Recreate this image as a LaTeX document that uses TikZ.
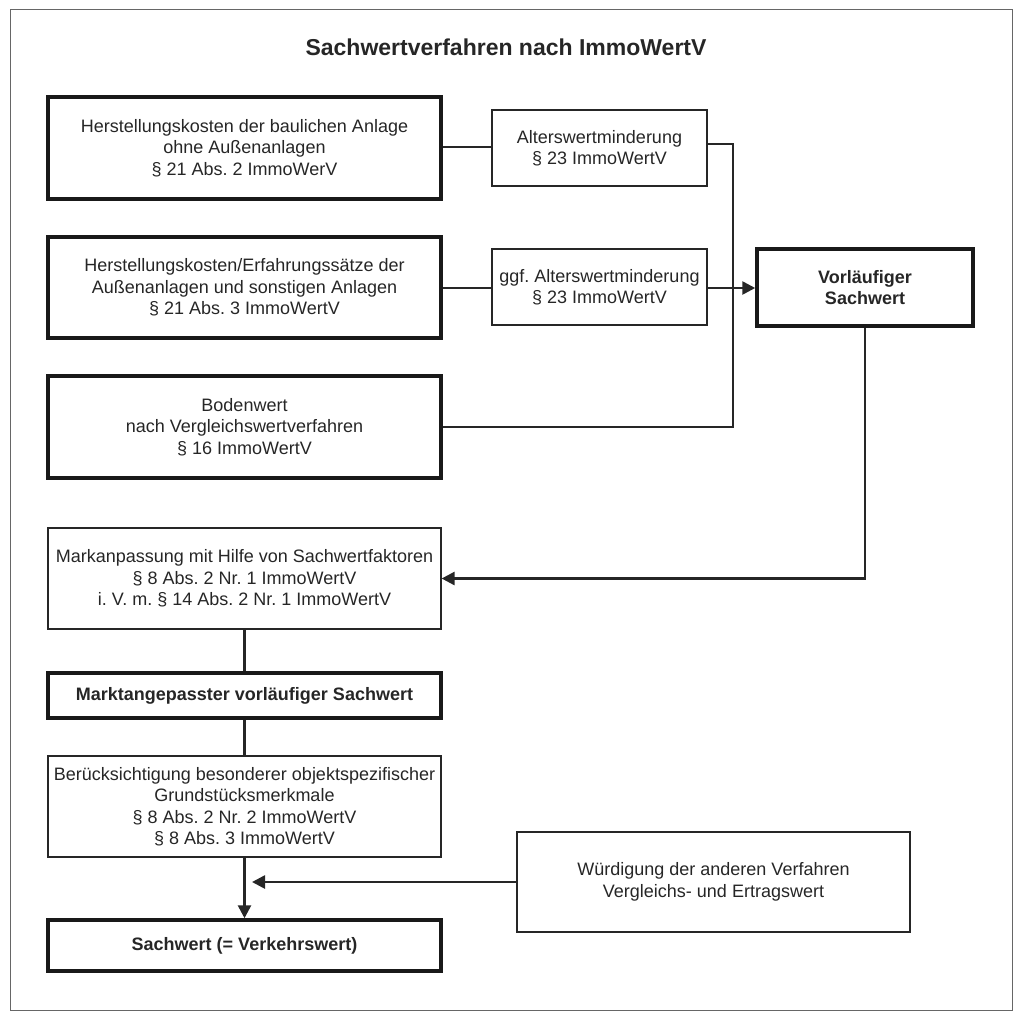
\documentclass[tikz,border=0pt]{standalone}
\usepackage{fontspec}
\setmainfont{Liberation Sans}
\usetikzlibrary{arrows.meta}
\begin{document}
\frenchspacing
\begin{tikzpicture}[x=1pt,y=-1pt,
  thickbox/.style={draw=black!90, line width=3.5pt, inner sep=0pt, align=center, font=\fontsize{18}{21.5}\selectfont, text=black!85},
  thinbox/.style={draw=black!85, line width=1.2pt, inner sep=0pt, align=center, font=\fontsize{18}{21.5}\selectfont, text=black!85},
  boldtext/.style={font=\bfseries\fontsize{18}{21.5}\selectfont},
  conn/.style={draw=black!85, line width=2.6pt},
  arr/.style={conn, -{Triangle[length=13pt,width=13pt]}}]
\useasboundingbox (0,0) rectangle (1024,1021);
\draw[black!60, line width=1pt] (10,9) rectangle (1012,1010);
\node[font=\bfseries\fontsize{23}{27}\selectfont, text=black!85] (title) at (506,47) {Sachwertverfahren nach ImmoWertV};

\node[thickbox, minimum width=393pt, minimum height=102pt] (A) at (244.5,148) {Herstellungskosten der baulichen Anlage\\ohne Außenanlagen\\§ 21 Abs. 2 ImmoWerV};
\node[thinbox, minimum width=215pt, minimum height=76pt] (B) at (599.5,148) {Alterswertminderung\\§ 23 ImmoWertV};
\node[thickbox, minimum width=393pt, minimum height=101pt] (C) at (244.5,287.5) {Herstellungskosten/Erfahrungssätze der\\Außenanlagen und sonstigen Anlagen\\§ 21 Abs. 3 ImmoWertV};
\node[thinbox, minimum width=215pt, minimum height=76pt] (D) at (599.5,287) {ggf. Alterswertminderung\\§ 23 ImmoWertV};
\node[thickbox, minimum width=393pt, minimum height=102pt] (E) at (244.5,427) {Bodenwert\\nach Vergleichswertverfahren\\§ 16 ImmoWertV};
\node[thickbox, boldtext, minimum width=216pt, minimum height=77pt] (V) at (865,287.5) {Vorläufiger\\Sachwert};
\node[thinbox, minimum width=393pt, minimum height=101pt] (F) at (244.5,578.5) {Markanpassung mit Hilfe von Sachwertfaktoren\\§ 8 Abs. 2 Nr. 1 ImmoWertV\\i. V. m. § 14 Abs. 2 Nr. 1 ImmoWertV};
\node[thickbox, boldtext, minimum width=393pt, minimum height=45pt] (G) at (244.5,695.5) {Marktangepasster vorläufiger Sachwert};
\node[thinbox, minimum width=393pt, minimum height=101pt] (H) at (244.5,806.5) {Berücksichtigung besonderer objektspezifischer\\Grundstücksmerkmale\\§ 8 Abs. 2 Nr. 2 ImmoWertV\\§ 8 Abs. 3 ImmoWertV};
\node[thickbox, boldtext, minimum width=393pt, minimum height=51pt] (I) at (244.5,945.5) {Sachwert (= Verkehrswert)};
\node[thinbox, minimum width=393pt, minimum height=100pt] (W) at (713.5,882) {Würdigung der anderen Verfahren\\Vergleichs- und Ertragswert};

\coordinate (j) at (733,287);
\coordinate (m) at (252,882);
\draw[conn] (A.east |- 0,147) -- (B.west |- 0,147);
\draw[conn] (B.east |- 0,144) -| (j);
\draw[conn] (E.east) -| (j);
\draw[conn] (C.east |- 0,288) -- (D.west |- 0,288);
\draw[arr] (D.east |- 0,288) -- (V.west |- 0,288);
\draw[arr] (V.south) |- (F.east);
\draw[conn] (F.south) -- (G.north);
\draw[conn] (G.south) -- (H.north);
\draw[arr] (H.south) -- (I.north);
\draw[arr] (W.west) -- (m);
\end{tikzpicture}
\end{document}
